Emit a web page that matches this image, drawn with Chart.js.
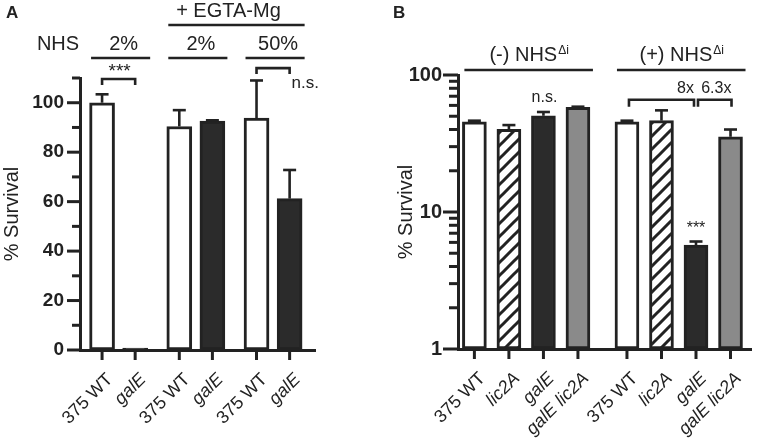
<!DOCTYPE html>
<html><head><meta charset="utf-8">
<script src="https://cdn.jsdelivr.net/npm/chart.js@4"></script>
<style>
html,body{margin:0;padding:0;background:#fff;}
#wrap{position:relative;width:765px;height:439px;overflow:hidden;}
#ca{position:absolute;left:0;top:0;}
#cb{position:absolute;left:385px;top:0;}
</style></head><body>
<div id="wrap"><canvas id="ca" width="385" height="439"></canvas><canvas id="cb" width="380" height="439"></canvas></div>
<script>
// ---------- Panel A data ----------
const labelsA = ['375 WT','galE','375 WT','galE','375 WT','galE'];
const italicA = [false,true,false,true,false,true];
const valuesA = [100, 0.8, 90.4, 92.6, 93.8, 61.2];
const errorsA = [3.4, 0, 6.6, 0.3, 15.2, 11.6];
const slotsA  = [0, 3, 7, 10, 14, 17];
const groupsA = ['2%', '2%', '50%'];
const yTicksA = [0,10,20,30,40,50,60,70,80,90,100,110];
// ---------- Panel B data ----------
const labelsB = ['375 WT','lic2A','galE','galE lic2A','375 WT','lic2A','galE','galE lic2A'];
const italicB = [false,true,true,true,false,true,true,true];
const valuesB = [45.6, 40.1, 50.4, 58.1, 45.6, 46.4, 5.74, 35.4];
const errorsB = [0.8, 3.0, 3.3, 0.6, 0.8, 8.8, 0.35, 4.6];
const slotsB  = [0, 1, 2, 3, 4.42, 5.42, 6.42, 7.42];
const groupsB = ['(-) NHS', '(+) NHS'];
const foldB   = ['8x', '6.3x'];
const yMajorB = [1, 10, 100];

const INK = '#222';
const FONT = '"Liberation Sans", Arial, Helvetica, sans-serif';
Chart.defaults.font.family = FONT;
Chart.defaults.color = INK;

function hatchPattern(ctx){
  const s = 13, c = document.createElement('canvas'); c.width = c.height = s;
  const g = c.getContext('2d');
  g.fillStyle = '#fff'; g.fillRect(0,0,s,s);
  g.strokeStyle = INK; g.lineWidth = 3;
  g.beginPath();
  g.moveTo(-3, s+3); g.lineTo(s+3, -3);
  g.moveTo(-3, 3); g.lineTo(3, -3);
  g.moveTo(s-3, s+3); g.lineTo(s+3, s-3);
  g.stroke();
  return ctx.createPattern(c, 'repeat');
}

function seg(ctx, x1, y1, x2, y2){ ctx.beginPath(); ctx.moveTo(x1,y1); ctx.lineTo(x2,y2); ctx.stroke(); }
function bracket(ctx, x1, x2, y, drop){ ctx.beginPath(); ctx.moveTo(x1, y+drop); ctx.lineTo(x1, y); ctx.lineTo(x2, y); ctx.lineTo(x2, y+drop); ctx.stroke(); }
function text(ctx, s, x, y, size, align, weight){
  ctx.font = (weight||'normal') + ' ' + size + 'px ' + FONT;
  ctx.textAlign = align || 'center'; ctx.textBaseline = 'middle';
  ctx.fillText(s, x, y);
}
function supText(ctx, main, sup, cx, cy, size){
  ctx.font = size + 'px ' + FONT; const w1 = ctx.measureText(main).width;
  const ss = Math.round(size*0.58);
  ctx.font = ss + 'px ' + FONT; const w2 = ctx.measureText(sup).width;
  const x0 = cx - (w1 + w2)/2;
  ctx.textAlign = 'left'; ctx.textBaseline = 'middle';
  ctx.font = size + 'px ' + FONT; ctx.fillText(main, x0, cy);
  ctx.font = ss + 'px ' + FONT; ctx.fillText(sup, x0 + w1 + 1, cy - size*0.22);
}
function errorBars(ctx, X, Y, slots, vals, errs){
  ctx.lineWidth = 2.6;
  slots.forEach((s,i)=>{
    if (!errs[i]) return;
    const px = X(s), t = Y(vals[i]), e = Y(vals[i] + errs[i]);
    seg(ctx, px, t, px, e);
    seg(ctx, px - 6.5, e, px + 6.5, e);
  });
}

// ---------- Panel A ----------
const decorA = { id:'decorA', afterDraw(chart){
  const {ctx, scales:{x, y}, chartArea} = chart;
  const X = v => x.getPixelForValue(v), Y = v => y.getPixelForValue(v);
  ctx.save(); ctx.strokeStyle = INK; ctx.fillStyle = INK; ctx.lineCap = 'butt';
  ctx.lineWidth = 3;
  y.ticks.forEach(t => { const len = t.value % 20 === 0 ? 13 : 8; const py = Y(t.value); seg(ctx, chartArea.left - len, py, chartArea.left, py); });
  x.ticks.forEach(t => { const px = X(t.value); seg(ctx, px, chartArea.bottom, px, chartArea.bottom + 10); });
  errorBars(ctx, X, Y, slotsA, valuesA, errorsA);
  // group lines
  ctx.lineWidth = 2.6;
  const lineY = chartArea.top - 20;
  for (let g = 0; g < groupsA.length; g++){
    const a = X(slotsA[2*g]) - 11, b = X(slotsA[2*g+1]) + 15;
    seg(ctx, a, lineY, b, lineY);
    text(ctx, groupsA[g], (a+b)/2 + 3, lineY - 14, 20);
  }
  text(ctx, 'NHS', 58, lineY - 14, 20);
  const ea = X(slotsA[2]) - 11, eb = X(slotsA[5]) + 15, eY = chartArea.top - 53;
  seg(ctx, ea, eY, eb, eY);
  text(ctx, '+ EGTA-Mg', (ea+eb)/2 - 8, eY - 14, 20);
  // significance
  ctx.lineWidth = 2.6;
  const b1 = Y(109.6);
  bracket(ctx, X(slotsA[0]), X(slotsA[1]), b1, 6);
  text(ctx, '***', (X(slotsA[0]) + X(slotsA[1]))/2 + 1, b1 - 7, 19);
  const b2 = Y(114);
  bracket(ctx, X(slotsA[4]), X(slotsA[5]), b2, 6);
  text(ctx, 'n.s.', X(slotsA[5]) + 2, b2 + 15, 17, 'left');
  text(ctx, 'A', 6, 13, 17, 'left', 'bold');
  ctx.restore();
}};

new Chart(document.getElementById('ca'), {
  type: 'bar',
  data: { datasets: [{
    data: valuesA.map((v,i) => ({x: slotsA[i], y: v})),
    backgroundColor: valuesA.map((v,i) => i % 2 ? '#2b2b2b' : '#ffffff'),
    borderColor: INK, borderWidth: 3, borderSkipped: false, barThickness: 25
  }]},
  options: {
    responsive: false, animation: false,
    layout: { padding: { top: 78, right: 70, left: 0, bottom: 0 } },
    plugins: { legend: { display: false }, tooltip: { enabled: false } },
    scales: {
      x: { type: 'linear', min: -2, max: 19.3, offset: false,
        grid: { display: false, drawTicks: false, offset: false },
        border: { display: true, color: INK, width: 3 },
        afterBuildTicks: s => { s.ticks = slotsA.map(v => ({value: v})); },
        ticks: { autoSkip: false, minRotation: 45, maxRotation: 45, padding: 19, labelOffset: 8,
          callback: (v, i) => labelsA[i],
          font: ctx => ({ size: 18, style: italicA[ctx.index] ? 'italic' : 'normal', family: FONT }) },
        afterFit: s => { s.height = 89; }
      },
      y: { type: 'linear', min: 0, max: 110,
        grid: { display: false, drawTicks: false },
        border: { display: true, color: INK, width: 3 },
        afterBuildTicks: s => { s.ticks = yTicksA.map(v => ({value: v})); },
        ticks: { autoSkip: false, padding: 16, callback: v => (v % 20 === 0 && v <= 100) ? String(v) : '',
          font: { size: 19, weight: 'bold', family: FONT } },
        title: { display: true, text: '% Survival', font: { size: 20, family: FONT }, padding: 0 },
        afterFit: s => { s.width = 80; }
      }
    }
  },
  plugins: [decorA]
});

// ---------- Panel B ----------
const decorB = { id:'decorB', afterDraw(chart){
  const {ctx, scales:{x, y}, chartArea} = chart;
  const X = v => x.getPixelForValue(v), Y = v => y.getPixelForValue(v);
  ctx.save(); ctx.strokeStyle = INK; ctx.fillStyle = INK; ctx.lineCap = 'butt';
  ctx.lineWidth = 3;
  y.ticks.forEach(t => { const len = yMajorB.includes(t.value) ? 15 : 9; const py = Y(t.value); seg(ctx, chartArea.left - len, py, chartArea.left, py); });
  x.ticks.forEach(t => { const px = X(t.value); seg(ctx, px, chartArea.bottom, px, chartArea.bottom + 10); });
  errorBars(ctx, X, Y, slotsB, valuesB, errorsB);
  ctx.lineWidth = 2.6;
  const lineY = chartArea.top - 5;
  for (let g = 0; g < groupsB.length; g++){
    const a = X(slotsB[4*g]) - 10, b = X(slotsB[4*g+3]) + 15;
    seg(ctx, a, lineY, b, lineY);
    supText(ctx, groupsB[g], '\u0394i', (a+b)/2, lineY - 15, 20);
  }
  text(ctx, 'n.s.', X(slotsB[2]) + 1, Y(valuesB[2] + errorsB[2]) - 14, 16);
  const by = Y(66);
  bracket(ctx, X(slotsB[4]) + 2, X(slotsB[6]) - 2, by, 7);
  bracket(ctx, X(slotsB[6]) + 2, X(slotsB[7]) + 1, by, 7);
  text(ctx, foldB[0], X(slotsB[6]) - 2, by - 11, 16, 'right');
  text(ctx, foldB[1], (X(slotsB[6]) + X(slotsB[7]))/2 + 3, by - 11, 16);
  text(ctx, '***', X(slotsB[6]), Y(valuesB[6] + errorsB[6]) - 13, 16);
  text(ctx, 'B', 8, 13, 17, 'left', 'bold');
  ctx.restore();
}};

const cb = document.getElementById('cb');
const hatch = hatchPattern(cb.getContext('2d'));
const fillB = ['#ffffff', hatch, '#2b2b2b', '#8a8a8a'];
new Chart(cb, {
  type: 'bar',
  data: { datasets: [{
    data: valuesB.map((v,i) => ({x: slotsB[i], y: v})),
    backgroundColor: valuesB.map((v,i) => fillB[i % 4]),
    borderColor: INK, borderWidth: 3, borderSkipped: false, barThickness: 24
  }]},
  options: {
    responsive: false, animation: false,
    layout: { padding: { top: 75, right: 3, left: 0, bottom: 0 } },
    plugins: { legend: { display: false }, tooltip: { enabled: false } },
    scales: {
      x: { type: 'linear', min: -0.475, max: 8.02, offset: false,
        grid: { display: false, drawTicks: false, offset: false },
        border: { display: true, color: INK, width: 3 },
        afterBuildTicks: s => { s.ticks = slotsB.map(v => ({value: v})); },
        ticks: { autoSkip: false, minRotation: 45, maxRotation: 45, padding: 19, labelOffset: 8,
          callback: (v, i) => labelsB[i],
          font: ctx => ({ size: 18, style: italicB[ctx.index] ? 'italic' : 'normal', family: FONT }) },
        afterFit: s => { s.height = 90; }
      },
      y: { type: 'logarithmic', min: 1, max: 100,
        grid: { display: false, drawTicks: false },
        border: { display: true, color: INK, width: 3 },
        afterBuildTicks: s => { const t = []; [1,10].forEach(d => { for (let k = 1; k < 10; k++) t.push({value: d*k}); }); t.push({value: 100}); s.ticks = t; },
        ticks: { autoSkip: false, padding: 16, callback: v => yMajorB.includes(v) ? String(v) : '',
          font: { size: 20, weight: 'bold', family: FONT } },
        title: { display: true, text: '% Survival', font: { size: 20, family: FONT }, padding: { top: 9, bottom: 0 } },
        afterFit: s => { s.width = 73; }
      }
    }
  },
  plugins: [decorB]
});
</script>
</body></html>
